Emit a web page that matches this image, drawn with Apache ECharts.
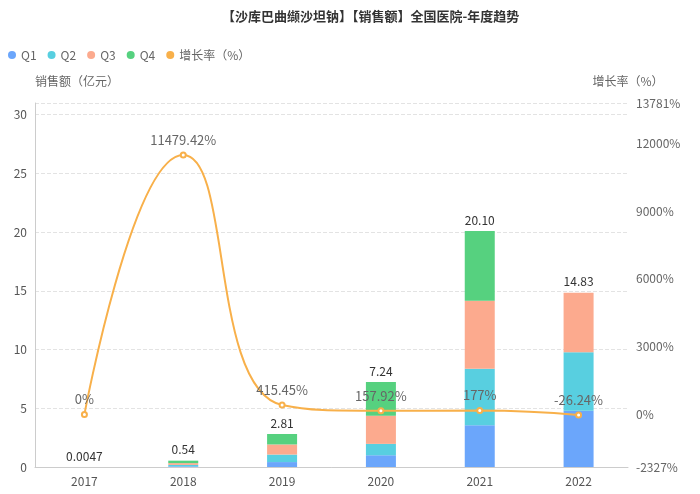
<!DOCTYPE html>
<html lang="zh">
<head>
	<meta charset="UTF-8">
	<title>echarts</title>
	<style>html,body{margin:0;padding:0;background:#fff;}</style>
</head>
<body>
	<div id="demo" style="width: 700px;height:494px;"></div>
	<script src="https://cdn.jsdelivr.net/npm/echarts@6/dist/echarts.min.js"></script>
	<script>
		// 数据
		var years = ['2017', '2018', '2019', '2020', '2021', '2022'];
		var q1 = [0.0005, 0.06, 0.42, 1.00, 3.55, 4.80];
		var q2 = [0.0010, 0.12, 0.64, 0.97, 4.82, 4.98];
		var q3 = [0.0014, 0.15, 0.86, 2.40, 5.79, 5.05];
		var q4 = [0.0018, 0.21, 0.89, 2.87, 5.94, 0];
		var totals = ['0.0047', '0.54', '2.81', '7.24', '20.10', '14.83'];
		var growth = [0, 11479.42, 415.45, 157.92, 177, -26.24];
		// 右轴刻度
		var rateTicks = [-2327, 0, 3000, 6000, 9000, 12000, 13781];

		var myChart = echarts.init(document.getElementById('demo'));
		var font = '"Noto Sans CJK SC", "Microsoft YaHei", sans-serif';

		function barSeries(name, data, color, withLabel) {
			var s = {
				name: name,
				type: 'bar',
				stack: 'total',
				barWidth: 30,
				itemStyle: { color: color },
				data: data
			};
			if (withLabel) {
				s.label = {
					show: true,
					position: 'top',
					color: '#333',
					fontSize: 12,
					formatter: function (p) { return totals[p.dataIndex]; }
				};
			}
			return s;
		}

		var option = {
			textStyle: { fontFamily: font },
			title: {
				text: '【沙库巴曲缬沙坦钠】【销售额】全国医院-年度趋势',
				left: 217,
				top: 5,
				textStyle: { fontSize: 13, fontWeight: 'bold', color: '#333', fontFamily: font }
			},
			legend: {
				left: 3,
				top: 44,
				icon: 'circle',
				itemWidth: 8,
				itemHeight: 8,
				itemGap: 11,
				textStyle: { color: '#666', fontSize: 12 },
				data: ['Q1', 'Q2', 'Q3', 'Q4', '增长率（%）']
			},
			grid: { left: 35, right: 72, top: 103, bottom: 27 },
			xAxis: {
				type: 'category',
				data: years,
				axisLine: { lineStyle: { color: '#ccc' } },
				axisTick: { lineStyle: { color: '#ccc' } },
				axisLabel: { color: '#555', fontSize: 12 }
			},
			yAxis: [{
				type: 'value',
				name: '销售额（亿元）',
				nameGap: 16,
				nameTextStyle: { color: '#666', fontSize: 12, align: 'left' },
				min: 0,
				max: 31,
				interval: 5,
				axisLine: { show: true, lineStyle: { color: '#ccc' } },
				axisLabel: { color: '#555', fontSize: 12 },
				splitLine: { lineStyle: { type: 'dashed', color: '#e3e3e3' } }
			}, {
				type: 'value',
				name: '增长率（%）',
				nameGap: 16,
				nameTextStyle: { color: '#666', fontSize: 12 },
				min: rateTicks[0],
				max: rateTicks[rateTicks.length - 1],
				axisLine: { show: false },
				axisTick: { show: false },
				axisLabel: {
					color: '#666',
					fontSize: 12,
					customValues: rateTicks,
					formatter: function (v) { return v + '%'; }
				},
				splitLine: { show: false }
			}],
			series: [
				barSeries('Q1', q1, '#6ba6fb', false),
				barSeries('Q2', q2, '#58cfe0', false),
				barSeries('Q3', q3, '#fcaa8e', false),
				barSeries('Q4', q4, '#56d17f', true),
				{
					name: '增长率（%）',
					type: 'line',
					yAxisIndex: 1,
					smooth: true,
					symbol: 'emptyCircle',
					symbolSize: 5,
					itemStyle: { color: '#f8b04a' },
					lineStyle: { width: 2, color: '#f8b04a' },
					label: {
						show: true,
						position: 'top',
						color: '#666',
						fontSize: 13,
						formatter: function (p) { return p.value + '%'; }
					},
					data: growth
				}
			]
		};

		myChart.setOption(option);
	</script>
</body>
</html>
